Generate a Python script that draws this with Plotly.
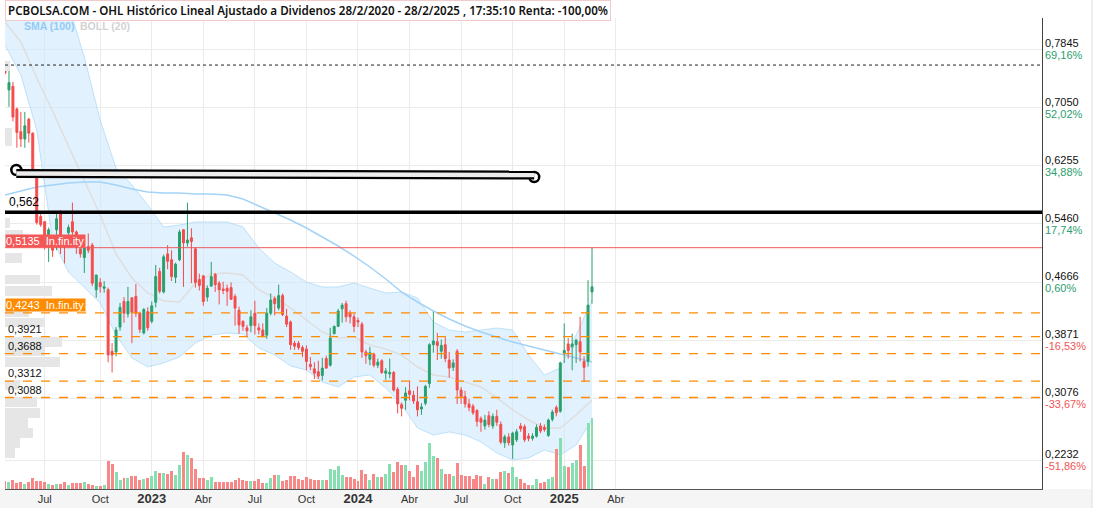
import pandas as pd
import plotly.graph_objects as go

# ---------------- data ----------------
week_dates = pd.date_range("2022-04-25", periods=149, freq="7D")

opens = [0.760,0.729,0.734,0.703,0.672,0.662,0.689,0.670,0.618,0.556,
         0.549,0.531,0.514,0.538,0.560,0.520,0.534,0.549,0.535,0.512,
         0.500,0.515,0.517,0.456,0.466,0.458,0.456,0.372,0.371,0.405,
         0.440,0.423,0.445,0.447,0.424,0.397,0.426,0.413,0.439,0.481,
         0.453,0.505,0.497,0.473,0.497,0.538,0.520,0.527,0.512,0.470,
         0.475,0.446,0.461,0.477,0.465,0.457,0.458,0.459,0.447,0.428,
         0.413,0.404,0.407,0.424,0.404,0.401,0.394,0.424,0.444,0.431,
         0.448,0.420,0.412,0.383,0.383,0.377,0.375,0.354,0.348,0.344,
         0.339,0.362,0.353,0.396,0.406,0.430,0.437,0.424,0.419,0.414,
         0.409,0.371,0.361,0.368,0.353,0.359,0.342,0.341,0.343,0.320,
         0.299,0.305,0.318,0.312,0.303,0.293,0.301,0.328,0.381,0.385,
         0.372,0.381,0.360,0.350,0.372,0.319,0.310,0.300,0.297,0.291,
         0.280,0.270,0.284,0.270,0.283,0.272,0.247,0.255,0.244,0.251,
         0.270,0.269,0.256,0.253,0.256,0.270,0.268,0.257,0.279,0.295,
         0.290,0.369,0.382,0.378,0.381,0.385,0.358,0.358,0.453]
highs = [0.763,0.756,0.740,0.705,0.699,0.699,0.691,0.671,0.620,0.562,
         0.550,0.541,0.515,0.563,0.565,0.525,0.545,0.575,0.537,0.515,
         0.521,0.533,0.520,0.477,0.472,0.468,0.459,0.383,0.405,0.438,
         0.446,0.460,0.446,0.464,0.426,0.431,0.432,0.440,0.490,0.486,
         0.504,0.517,0.510,0.493,0.538,0.539,0.575,0.540,0.514,0.478,
         0.476,0.462,0.494,0.479,0.468,0.467,0.463,0.466,0.450,0.433,
         0.414,0.408,0.428,0.441,0.410,0.410,0.431,0.451,0.447,0.463,
         0.451,0.430,0.414,0.386,0.386,0.380,0.380,0.364,0.357,0.359,
         0.363,0.366,0.404,0.407,0.430,0.438,0.441,0.428,0.424,0.418,
         0.412,0.374,0.378,0.370,0.362,0.361,0.349,0.362,0.345,0.323,
         0.302,0.323,0.332,0.318,0.324,0.301,0.326,0.383,0.426,0.397,
         0.388,0.391,0.371,0.361,0.375,0.323,0.318,0.307,0.300,0.293,
         0.283,0.285,0.290,0.287,0.292,0.276,0.258,0.260,0.262,0.266,
         0.274,0.272,0.260,0.260,0.272,0.274,0.272,0.280,0.292,0.298,
         0.358,0.410,0.390,0.396,0.389,0.419,0.365,0.469,0.5135]
lows = [0.750,0.706,0.686,0.650,0.651,0.650,0.657,0.615,0.545,0.542,
        0.511,0.494,0.501,0.510,0.505,0.492,0.530,0.528,0.505,0.500,
        0.479,0.506,0.461,0.445,0.452,0.452,0.357,0.343,0.365,0.400,
        0.411,0.418,0.383,0.419,0.397,0.395,0.400,0.410,0.432,0.451,
        0.451,0.484,0.468,0.465,0.495,0.460,0.515,0.465,0.459,0.455,
        0.434,0.440,0.460,0.453,0.436,0.450,0.434,0.442,0.407,0.396,
        0.400,0.392,0.398,0.395,0.395,0.391,0.389,0.421,0.421,0.428,
        0.420,0.405,0.374,0.374,0.374,0.364,0.346,0.346,0.334,0.334,
        0.332,0.348,0.351,0.395,0.405,0.411,0.412,0.410,0.398,0.405,
        0.363,0.355,0.353,0.350,0.349,0.341,0.333,0.335,0.317,0.287,
        0.283,0.292,0.305,0.300,0.283,0.285,0.298,0.322,0.370,0.360,
        0.362,0.357,0.336,0.345,0.300,0.300,0.295,0.290,0.285,0.269,
        0.262,0.265,0.268,0.266,0.270,0.245,0.240,0.243,0.225,0.248,
        0.262,0.248,0.249,0.250,0.254,0.260,0.262,0.255,0.276,0.283,
        0.288,0.356,0.362,0.346,0.356,0.358,0.330,0.351,0.437]
closes = [0.752,0.739,0.692,0.671,0.662,0.680,0.670,0.620,0.548,0.545,
          0.519,0.538,0.510,0.553,0.515,0.514,0.541,0.535,0.515,0.505,
          0.513,0.510,0.465,0.476,0.460,0.460,0.367,0.367,0.401,0.432,
          0.424,0.440,0.425,0.424,0.402,0.429,0.404,0.434,0.474,0.454,
          0.501,0.495,0.474,0.491,0.535,0.520,0.524,0.522,0.466,0.462,
          0.440,0.458,0.474,0.463,0.456,0.455,0.454,0.443,0.431,0.408,
          0.406,0.400,0.419,0.407,0.401,0.393,0.424,0.442,0.437,0.448,
          0.422,0.409,0.381,0.379,0.377,0.372,0.358,0.351,0.342,0.338,
          0.349,0.349,0.390,0.406,0.427,0.435,0.419,0.419,0.406,0.412,
          0.371,0.366,0.370,0.353,0.357,0.343,0.345,0.343,0.319,0.300,
          0.294,0.315,0.313,0.304,0.292,0.296,0.324,0.381,0.386,0.380,
          0.380,0.362,0.349,0.356,0.319,0.310,0.300,0.295,0.288,0.276,
          0.275,0.278,0.272,0.283,0.275,0.248,0.255,0.247,0.260,0.262,
          0.266,0.251,0.253,0.256,0.268,0.263,0.265,0.278,0.289,0.288,
          0.356,0.373,0.373,0.382,0.387,0.371,0.350,0.435,0.460]
volumes = [23,21,28,18,21,15,21,33,23,23,20,15,13,15,15,20,13,18,18,18,
           20,15,11,8,10,12,
           83,76,51,26,33,33,38,40,26,30,33,40,53,48,48,46,53,43,73,111,
           103,93,60,33,33,28,35,
           21,21,21,21,20,28,33,28,23,23,23,30,18,18,33,43,43,23,28,38,
           40,30,26,35,30,28,28,26,28,60,58,68,43,36,36,30,23,56,45,28,
           46,36,35,46,76,51,80,71,71,55,35,73,53,80,
           138,98,93,60,45,46,40,78,43,40,40,30,43,40,16,35,30,30,51,53,
           48,66,35,30,18,13,13,30,18,20,30,35,120,152,70,66,78,87,132,
           69,199,212]

# indicator lines read every 4th week
ind_dates = week_dates[::4]
boll_upper = [0.8792,0.8792,0.8655,0.8587,0.8450,0.7740,0.6879,0.6223,0.5991,0.5718,
              0.5418,0.5445,0.5486,0.5486,0.5486,0.5418,0.5131,0.4926,0.4803,0.4666,
              0.4598,0.4598,0.4652,0.4584,0.4516,0.4530,0.4448,0.4120,0.4010,0.3983,
              0.4010,0.4038,0.4010,0.3669,0.3396,0.3491,0.3942,0.4420]
boll_mid = [0.8218,0.7945,0.7453,0.7002,0.6524,0.6046,0.5581,0.5049,0.4721,0.4516,
            0.4407,0.4393,0.4652,0.4775,0.4789,0.4762,0.4557,0.4448,0.4311,0.4147,
            0.3983,0.3901,0.3915,0.3806,0.3751,0.3669,0.3505,0.3396,0.3368,0.3300,
            0.3232,0.3082,0.2918,0.2781,0.2672,0.2672,0.2849,0.3054]
boll_lower = [0.7904,0.7494,0.6743,0.5240,0.4803,0.4584,0.4379,0.3942,0.3628,0.3505,
              0.3560,0.3641,0.3833,0.3942,0.3969,0.3956,0.3764,0.3669,0.3518,0.3464,
              0.3300,0.3232,0.3368,0.3396,0.3218,0.2986,0.2672,0.2576,0.2617,0.2576,
              0.2481,0.2330,0.2234,0.2262,0.2371,0.2303,0.2440,0.2781]
sma100 = [0.5855,0.5909,0.5964,0.5991,0.6018,0.6032,0.6032,0.5991,0.5937,0.5896,
          0.5882,0.5882,0.5868,0.5868,0.5855,0.5800,0.5704,0.5609,0.5513,0.5404,
          0.5281,0.5158,0.5021,0.4871,0.4707,0.4529,0.4393,0.4270,0.4161,0.4065,
          0.3983,0.3915,0.3847,0.3792,0.3737,0.3683,0.3628,0.3573]

# volume-by-price profile
profile_prices = [0.7617,0.6709,0.6592,0.5472,0.5308,0.4994,0.4700,0.4543,0.4256,0.4112,
                  0.3846,0.3716,0.3573,0.3259,0.3027,0.2876,0.2740,0.2603,0.2467,0.2330]
profile_volumes = [5,7,7,5,18,17,35,47,24,40,57,40,55,15,32,35,23,28,15,10]

# axis labels
price_ticks = [0.7845,0.7050,0.6255,0.5460,0.4666,0.3871,0.3076,0.2232]
price_labels = ["0,7845","0,7050","0,6255","0,5460","0,4666","0,3871","0,3076","0,2232"]
pct_labels = ["69,16%","52,02%","34,88%","17,74%","0,60%","-16,53%","-33,67%","-51,86%"]
month_ticks = ["2022-07-04","2022-10-10","2023-01-09","2023-04-10","2023-07-10","2023-10-09",
               "2024-01-08","2024-04-08","2024-07-08","2024-10-07","2025-01-06","2025-04-07"]
month_labels = ["Jul","Oct","2023","Abr","Jul","Oct","2024","Abr","Jul","Oct","2025","Abr"]

# drawn levels
max_level = 0.7630
support_level = 0.562
last_level = 0.5135
alert_level = 0.4243
orange_levels = [0.4243,0.3921,0.3688,0.3312,0.3088]
orange_labels = ["", "0,3921","0,3688","0,3312","0,3088"]
trend_from = ("2022-05-15", 0.6150)
trend_to = ("2024-11-14", 0.6128)
ring_a = ("2022-05-15", 0.6196)
ring_b = ("2024-11-14", 0.6101)

title_text = "PCBOLSA.COM - OHL Histórico Lineal Ajustado a Dividenos 28/2/2020 - 28/2/2025 , 17:35:10 Renta: -100,00%"

# ---------------- figure ----------------
GREEN = "#28a06c"
RED = "#f44c4c"
Y_RANGE = [0.1838, 0.8273]
fig = go.Figure()

fig.add_trace(go.Scatter(x=ind_dates, y=boll_upper, mode="lines",
                         line=dict(color="rgba(150,205,245,0.55)", width=1), hoverinfo="skip"))
fig.add_trace(go.Scatter(x=ind_dates, y=boll_lower, mode="lines", fill="tonexty",
                         fillcolor="rgba(205,232,252,0.6)",
                         line=dict(color="rgba(150,205,245,0.55)", width=1), hoverinfo="skip"))
fig.add_trace(go.Scatter(x=ind_dates, y=boll_mid, mode="lines",
                         line=dict(color="#dedede", width=1.5), hoverinfo="skip"))
fig.add_trace(go.Scatter(x=ind_dates, y=sma100, mode="lines",
                         line=dict(color="#a3d3f7", width=1.5), hoverinfo="skip"))

vol_colors = ["#86dfb0" if c >= o else "#f88787" for o, c in zip(opens, closes)]
fig.add_trace(go.Bar(x=week_dates, y=volumes, marker=dict(color=vol_colors, line=dict(width=0)),
                     width=7 * 86400000 * 0.75, yaxis="y2"))

fig.add_trace(go.Bar(x=profile_volumes, y=profile_prices, orientation="h",
                     marker=dict(color="#e6e6e6", line=dict(width=0)), width=0.0125,
                     xaxis="x2", yaxis="y"))

# candles on an overlaid price axis so they sit above the band fill
fig.add_trace(go.Candlestick(
    x=week_dates, open=opens, high=highs, low=lows, close=closes,
    increasing=dict(line=dict(color=GREEN, width=1), fillcolor=GREEN),
    decreasing=dict(line=dict(color=RED, width=1), fillcolor=RED),
    whiskerwidth=0, yaxis="y3"))

PX_PER_DAY = 0.5666
x_start = pd.Timestamp("2022-04-25")
x_end = x_start + pd.Timedelta(days=1037 / PX_PER_DAY)

tick_text = []
for lab in month_labels:
    if lab.isdigit():
        tick_text.append("<span style='font-size:13px'><b>%s</b></span>" % lab)
    else:
        tick_text.append(lab)

shapes = []
shapes.append(dict(type="rect", xref="paper", yref="paper", x0=-5/1037, x1=1+50/1037,
                   y0=-19/471, y1=0, fillcolor="#f5f5f5", line=dict(width=0), layer="below"))
shapes.append(dict(type="line", xref="paper", yref="paper", x0=1+50/1037, x1=1+50/1037,
                   y0=-19/471, y1=1+18/471, line=dict(color="#dddddd", width=1)))
shapes.append(dict(type="line", xref="paper", yref="y", x0=0, x1=1, y0=max_level, y1=max_level,
                   line=dict(color="#222", width=1, dash="dot")))
for lv in orange_levels:
    shapes.append(dict(type="line", xref="paper", yref="y", x0=0, x1=1, y0=lv, y1=lv,
                       line=dict(color="#ff8c00", width=1.3, dash="dash")))
shapes.append(dict(type="line", xref="paper", yref="y", x0=0, x1=1, y0=last_level, y1=last_level,
                   line=dict(color="#f05a5a", width=1)))
shapes.append(dict(type="line", xref="paper", yref="y", x0=0, x1=1, y0=support_level, y1=support_level,
                   line=dict(color="#000", width=3.5)))
for ring in (ring_a, ring_b):
    shapes.append(dict(type="circle", xref="x", yref="y", xsizemode="pixel", ysizemode="pixel",
                       xanchor=ring[0], yanchor=ring[1], x0=-5, x1=5, y0=-5, y1=5,
                       line=dict(color="#000", width=2.5), fillcolor="white"))
shapes.append(dict(type="line", xref="x", yref="y", x0=trend_from[0], y0=trend_from[1],
                   x1=trend_to[0], y1=trend_to[1], line=dict(color="#000", width=9)))
shapes.append(dict(type="line", xref="x", yref="y", x0=trend_from[0], y0=trend_from[1],
                   x1=trend_to[0], y1=trend_to[1], line=dict(color="#ececec", width=4.5)))

annotations = []
annotations.append(dict(xref="paper", yref="paper", x=0, y=(489-10)/471, xanchor="left", yanchor="middle",
                        text=title_text, showarrow=False,
                        font=dict(family="Noto Sans", size=11.6, color="#111", weight=600),
                        bordercolor="#f2caca", borderwidth=1, borderpad=2, bgcolor="white"))
annotations.append(dict(xref="paper", yref="paper", x=17/1037, y=(489-26)/471, xanchor="left", yanchor="middle",
                        text="<b>SMA (100)</b>", showarrow=False,
                        font=dict(family="Liberation Sans", size=10.5, color="#93cbf5")))
annotations.append(dict(xref="paper", yref="paper", x=73/1037, y=(489-26)/471, xanchor="left", yanchor="middle",
                        text="<b>BOLL (20)</b>", showarrow=False,
                        font=dict(family="Liberation Sans", size=10.5, color="#d2d2d2")))
for pv, pl, pc in zip(price_ticks, price_labels, pct_labels):
    annotations.append(dict(xref="paper", yref="y", x=1, y=pv, xanchor="left", yanchor="bottom",
                            xshift=1, yshift=-2, text=pl, showarrow=False,
                            font=dict(family="Liberation Sans", size=11, color="#111")))
    annotations.append(dict(xref="paper", yref="y", x=1, y=pv, xanchor="left", yanchor="top",
                            xshift=1, yshift=2, text=pc, showarrow=False,
                            font=dict(family="Liberation Sans", size=11,
                                      color="#f25555" if pc.startswith("-") else "#2c9e6e")))
annotations.append(dict(xref="paper", yref="y", x=2/1037, y=support_level, xanchor="left", yanchor="bottom",
                        yshift=1, text="0,562", showarrow=False,
                        font=dict(family="Liberation Sans", size=12, color="#000")))
for lv, lab in zip(orange_levels, orange_labels):
    if lab:
        annotations.append(dict(xref="paper", yref="y", x=1/1037, y=lv, xanchor="left", yanchor="bottom",
                                yshift=0, text=lab, showarrow=False,
                                font=dict(family="Liberation Sans", size=11, color="#111")))
annotations.append(dict(xref="paper", yref="y", x=0, y=last_level, xanchor="left", yanchor="bottom",
                        text="0,5135&nbsp;&nbsp;In.fin.ity", showarrow=False, bgcolor="#f45757",
                        borderpad=0, width=79, align="left",
                        font=dict(family="Liberation Sans", size=11, color="white")))
annotations.append(dict(xref="paper", yref="y", x=0, y=alert_level, xanchor="left", yanchor="bottom",
                        text="0,4243&nbsp;&nbsp;In.fin.ity", showarrow=False, bgcolor="#ff8c00",
                        borderpad=0, width=79, align="left", yshift=1,
                        font=dict(family="Liberation Sans", size=11, color="white")))

fig.update_layout(
    width=1096, height=512,
    margin=dict(l=5, r=54, t=18, b=23),
    paper_bgcolor="white", plot_bgcolor="white",
    showlegend=False, bargap=0,
    xaxis=dict(type="date", range=[x_start, x_end], tickvals=month_ticks, ticktext=tick_text,
               showgrid=True, gridcolor="#ebebeb", showline=True, linecolor="#555", ticks="",
               zeroline=False, rangeslider=dict(visible=False),
               tickfont=dict(family="Liberation Sans", size=11, color="#333")),
    yaxis=dict(range=Y_RANGE, side="right", tickvals=price_ticks, showticklabels=False,
               showgrid=True, gridcolor="#ebebeb", showline=True, linecolor="#444", zeroline=False,
               ticks=""),
    yaxis2=dict(overlaying="y", range=[0, 1413], visible=False),
    yaxis3=dict(overlaying="y", range=Y_RANGE, visible=False),
    xaxis2=dict(overlaying="x", range=[0, 1037], visible=False),
    shapes=shapes, annotations=annotations,
)

fig.write_html("out.html")
